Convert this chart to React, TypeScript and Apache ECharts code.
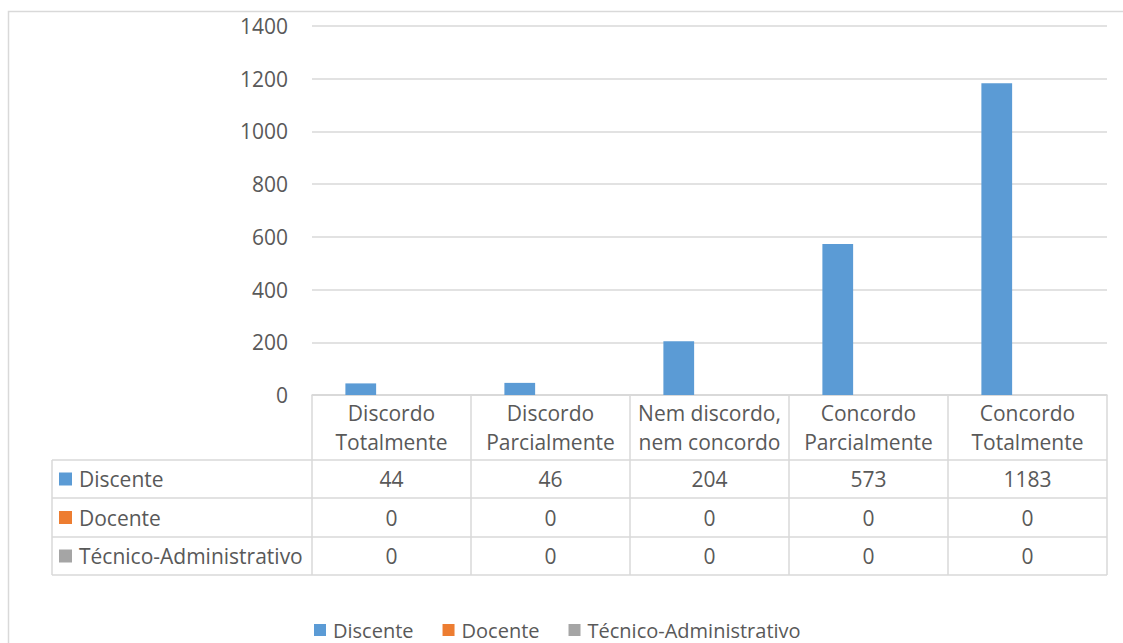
import React, { useEffect, useRef } from "react";
import * as echarts from "echarts";

const categories = [
  "Discordo\nTotalmente",
  "Discordo\nParcialmente",
  "Nem discordo,\nnem concordo",
  "Concordo\nParcialmente",
  "Concordo\nTotalmente",
];
const seriesNames = ["Discente", "Docente", "Técnico-Administrativo"];
const discente = [44, 46, 204, 573, 1183];
const docente = [0, 0, 0, 0, 0];
const tecnico = [0, 0, 0, 0, 0];
const seriesData = [discente, docente, tecnico];
const colors = ["#5b9bd5", "#ed7d31", "#a5a5a5"];
const yMin = 0;
const yMax = 1400;
const yInterval = 200;

const FONT = "Open Sans";
const FS = 21;
const TXT = "#595959";
const LINE = "#d9d9d9";

const W = 1123;
const H = 643;
const gridLeft = 312;
const gridRight = 16;
const gridTop = 26;
const gridBottom = H - 395;
const rowBounds = [395, 460, 498, 537, 575];
const tableLeft = 52;

export default function App() {
  const ref = useRef<HTMLDivElement>(null);
  useEffect(() => {
    if (!ref.current) return;
    const chart = echarts.init(ref.current, null, { renderer: "svg" });
    const option: any = {
      animation: false,
      color: colors,
      textStyle: { fontFamily: FONT },
      grid: { left: gridLeft, right: gridRight, top: gridTop, bottom: gridBottom, containLabel: false },
      legend: {
        data: seriesNames,
        top: 619,
        left: 314,
        padding: 0,
        icon: "rect",
        itemWidth: 12,
        itemHeight: 12,
        itemGap: 29,
        textStyle: { color: TXT, fontSize: 20, lineHeight: 22, fontFamily: FONT, padding: [0, 0, 0, 2] },
      },
      xAxis: {
        type: "category",
        data: categories,
        axisLine: { show: true, lineStyle: { color: LINE, width: 1.5 } },
        axisTick: { show: false },
        axisLabel: {
          color: TXT,
          fontSize: FS,
          fontFamily: FONT,
          lineHeight: 29,
          margin: 3,
          interval: 0,
        },
      },
      yAxis: {
        type: "value",
        min: yMin,
        max: yMax,
        interval: yInterval,
        axisLine: { show: false },
        axisTick: { show: false },
        splitLine: { lineStyle: { color: LINE, width: 1.5 } },
        axisLabel: { color: TXT, fontSize: FS, fontFamily: FONT, margin: 24, formatter: (v: number) => String(v) },
      },
      series: seriesNames.map((name, i) => ({
        name,
        type: "bar",
        data: seriesData[i],
        barGap: "0%",
        barCategoryGap: "42%",
      })),
    };
    chart.setOption(option);

    const plotW = W - gridLeft - gridRight;
    const band = plotW / categories.length;
    const centers = categories.map((_, i) => chart.convertToPixel({ xAxisIndex: 0 }, i) as number);
    const right = gridLeft + plotW;
    const g: any[] = [];
    const ls = { stroke: LINE, lineWidth: 1.5 };
    g.push({ type: "rect", shape: { x: 8.5, y: 11.5, width: 1200, height: 700 }, style: { fill: "none", stroke: LINE, lineWidth: 1.5 }, silent: true });
    rowBounds.forEach((y, k) => {
      g.push({ type: "line", shape: { x1: k === 0 ? gridLeft : tableLeft, y1: y, x2: right, y2: y }, style: ls });
    });
    for (let i = 0; i <= categories.length; i++) {
      const x = gridLeft + band * i;
      g.push({ type: "line", shape: { x1: x, y1: rowBounds[0], x2: x, y2: rowBounds[rowBounds.length - 1] }, style: ls });
    }
    g.push({ type: "line", shape: { x1: tableLeft, y1: rowBounds[1], x2: tableLeft, y2: rowBounds[rowBounds.length - 1] }, style: ls });
    seriesNames.forEach((name, r) => {
      const cy = (rowBounds[r + 1] + rowBounds[r + 2]) / 2;
      g.push({ type: "rect", shape: { x: 59, y: cy - 6.5, width: 13, height: 13 }, style: { fill: colors[r] } });
      g.push({
        type: "text",
        x: 79,
        y: cy,
        style: { text: name, fill: TXT, fontSize: FS, fontFamily: FONT, verticalAlign: "middle", align: "left" },
      });
      seriesData[r].forEach((v, c) => {
        g.push({
          type: "text",
          x: centers[c],
          y: cy,
          style: { text: String(v), fill: TXT, fontSize: FS, fontFamily: FONT, verticalAlign: "middle", align: "center" },
        });
      });
    });
    chart.setOption({ graphic: g });
    return () => chart.dispose();
  }, []);
  return <div ref={ref} style={{ width: W, height: H, position: "absolute", left: 0, top: 0 }} />;
}
